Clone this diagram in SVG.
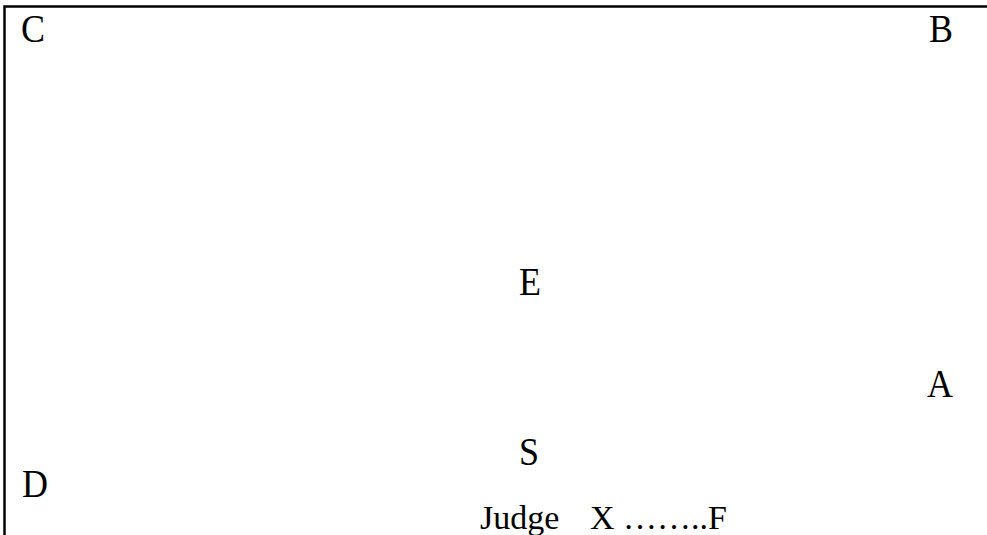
<svg xmlns="http://www.w3.org/2000/svg" width="987" height="535" viewBox="0 0 987 535">
<style>
text{font-family:"Liberation Serif","Times New Roman",serif;font-size:36px;fill:#000}
.j{font-size:34px}
.b{stroke:#000;stroke-width:2.5;fill:none}
</style>
<rect width="987" height="535" fill="#fff"/>
<g id="border"><path class="b" d="M4.5,535 V6.5 H987"/></g>
<g id="C"><text transform="translate(21,42) scale(1,1.13)">C</text></g>
<g id="B"><text transform="translate(929,42) scale(1,1.13)">B</text></g>
<g id="E"><text transform="translate(519,295) scale(1,1.13)">E</text></g>
<g id="A"><text transform="translate(927,397) scale(1,1.13)">A</text></g>
<g id="S"><text transform="translate(519,465) scale(1,1.13)">S</text></g>
<g id="D"><text transform="translate(22,497) scale(1,1.13)">D</text></g>
<g id="F"><text class="j" y="529"><tspan x="480">Judge</tspan><tspan x="590">X ……..F</tspan></text></g>
<g id="connectors"></g>
</svg>
